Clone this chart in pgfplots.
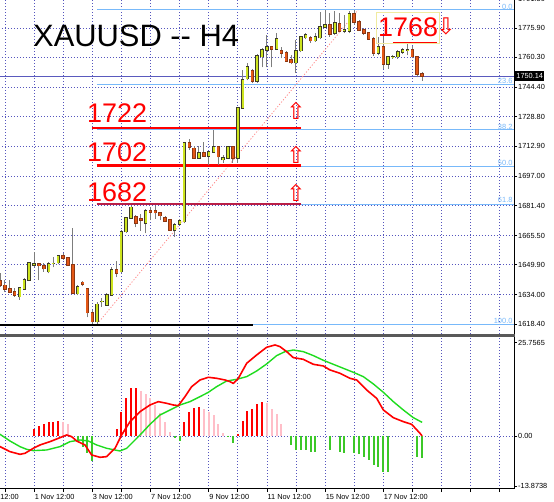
\documentclass[border=0pt]{standalone}
\usepackage{pgfplots}
\pgfplotsset{compat=1.18}
\usepackage{pgfplotstable}
\usepackage{fontspec}
\setmainfont{Liberation Sans}
\newfontfamily\symfont{DejaVu Sans}

\definecolor{gridblue}{RGB}{85,85,190}
\definecolor{bullfill}{RGB}{205,228,30}
\definecolor{bearfill}{RGB}{228,88,22}
\definecolor{bullline}{RGB}{60,60,40}
\definecolor{bearline}{RGB}{140,55,20}
\definecolor{wick}{RGB}{125,125,125}
\definecolor{fibblue}{RGB}{120,185,250}
\definecolor{curline}{RGB}{90,90,190}
\definecolor{macdgreen}{RGB}{30,220,30}
\definecolor{histgreen}{RGB}{60,200,40}
\definecolor{histpink}{RGB}{255,190,200}
\definecolor{boxyellow}{RGB}{240,235,160}
\definecolor{supmaroon}{RGB}{185,30,70}
\definecolor{fibpink}{RGB}{255,140,140}

\pgfplotstableread{
i O H L C
3 1632.8 1638.1 1631.2 1637.6
4 1637.0 1642.9 1636.5 1641.8
5 1641.8 1651.4 1641.3 1650.9
6 1649.8 1656.7 1648.7 1650.3
9 1646.1 1651.4 1645.5 1650.3
10 1650.5 1654.1 1648.7 1650.6
11 1650.9 1655.1 1650.3 1654.6
15 1634.4 1639.1 1633.8 1638.1
19 1619.5 1630.1 1618.4 1629.0
20 1630.2 1632.2 1627.5 1630.4
21 1628.5 1634.9 1628.0 1633.8
22 1633.8 1648.7 1633.3 1647.1
24 1646.1 1668.4 1645.5 1667.4
25 1667.4 1675.3 1666.8 1674.8
26 1674.8 1681.2 1674.3 1680.6
29 1672.1 1679.6 1666.8 1678.5
35 1668.4 1672.1 1664.7 1671.1
36 1671.6 1674.3 1671.1 1673.2
37 1672.7 1715.2 1672.1 1714.7
40 1706.7 1713.1 1706.2 1709.4
42 1707.8 1710.5 1703.0 1709.9
43 1709.9 1721.6 1709.4 1712.6
45 1705.7 1708.3 1704.1 1706.7
46 1706.7 1713.1 1706.2 1712.6
48 1706.7 1733.9 1704.1 1733.3
49 1733.3 1753.6 1732.8 1748.2
50 1748.8 1757.3 1748.2 1755.1
52 1747.7 1762.1 1746.6 1761.0
53 1760.5 1765.3 1755.1 1764.2
54 1764.2 1772.2 1755.1 1765.8
56 1764.7 1773.2 1764.2 1770.0
60 1757.3 1769.5 1752.0 1763.7
61 1763.7 1771.6 1763.1 1771.1
62 1770.6 1773.2 1770.0 1772.2
64 1769.0 1773.2 1768.5 1771.1
65 1770.6 1784.4 1770.0 1776.4
66 1776.4 1785.5 1775.9 1777.5
68 1773.2 1785.0 1772.2 1778.6
70 1774.3 1782.8 1773.2 1775.0
71 1774.3 1785.0 1773.2 1783.3
77 1762.6 1771.1 1761.5 1765.8
79 1756.7 1761.0 1754.1 1760.5
80 1760.5 1761.5 1759.4 1760.6
81 1760.5 1764.2 1759.4 1763.1
82 1763.1 1765.3 1762.1 1764.2
83 1764.2 1767.4 1761.5 1764.3
}\bull

\pgfplotstableread{
i O H L C
-1 1641.3 1645.5 1638.1 1639.1
0 1639.1 1641.8 1635.4 1637.0
1 1637.0 1641.8 1634.9 1635.4
2 1635.4 1637.6 1632.8 1633.8
7 1650.3 1650.9 1641.8 1649.3
8 1649.3 1650.9 1646.1 1647.7
12 1654.6 1656.2 1652.5 1653.5
13 1653.5 1654.1 1649.3 1649.8
14 1649.8 1669.5 1634.4 1634.9
16 1640.7 1641.3 1638.6 1639.7
17 1637.0 1637.6 1622.1 1624.3
18 1624.3 1625.9 1618.4 1619.5
23 1647.1 1651.9 1643.4 1645.5
27 1675.3 1676.4 1670.0 1672.1
28 1674.3 1676.9 1667.9 1673.7
30 1678.5 1680.7 1673.7 1678.0
31 1678.5 1681.2 1674.3 1677.5
32 1677.5 1678.0 1673.7 1675.9
33 1674.8 1675.9 1672.7 1673.2
34 1673.7 1674.3 1667.9 1668.4
38 1714.7 1716.8 1711.0 1712.6
39 1712.0 1713.1 1706.2 1706.7
41 1709.4 1715.2 1707.3 1707.8
44 1712.6 1712.6 1703.0 1707.3
47 1712.6 1713.1 1704.1 1706.7
51 1753.0 1754.1 1746.6 1747.7
55 1765.8 1766.3 1755.1 1764.7
57 1763.7 1765.8 1759.9 1762.6
58 1762.6 1763.7 1757.8 1758.3
59 1758.9 1761.5 1756.7 1757.3
63 1770.6 1771.6 1767.9 1769.0
67 1777.5 1783.9 1771.1 1772.7
69 1778.0 1783.9 1773.8 1774.3
72 1783.3 1785.5 1777.5 1779.1
73 1779.1 1780.2 1774.3 1774.8
74 1774.8 1775.9 1772.2 1773.2
75 1773.2 1773.8 1769.5 1770.0
76 1770.0 1771.1 1761.0 1762.6
78 1765.8 1771.1 1754.1 1756.7
84 1764.2 1766.3 1759.9 1760.5
85 1760.5 1761.0 1749.8 1751.4
86 1751.4 1752.5 1747.7 1750.14
}\bear

\pgfplotsset{
  mt4/.style={
    anchor=south west, scale only axis,
    xmin=-6.2, xmax=104.95,
    axis line style={draw=none},
    tick align=outside, major tick length=3bp,
    tick style={black, line width=0.6bp},
    ytick pos=right, yticklabel pos=right,
    tick label style={font=\fontsize{7.4}{8}\selectfont},
    yticklabel style={anchor=west, inner sep=0pt, xshift=1bp},
    major grid style={gridblue, line width=0.7bp, dash pattern=on 0.9bp off 2.1bp},
  },
  wickstyle/.style={only marks, mark=*, mark size=0pt, mark options={draw=none, fill=none}, forget plot,
    error bars/.cd, y dir=plus, y explicit, error mark=none,
    error bar style={wick, line width=1bp}},
  bodystyle/.style={only marks, mark=*, mark size=0pt, mark options={draw=none, fill=none}, forget plot,
    error bars/.cd, y dir=plus, y explicit, error mark=none,
    error bar style={#1}},
}

\begin{document}
\begin{tikzpicture}
\path[use as bounding box] (0bp,0bp) rectangle (554bp,502bp);
\fill[white] (0bp,0bp) rectangle (554bp,502bp);

% ---------------- price panel ----------------
\begin{axis}[mt4,
  at={(-25.07bp,168bp)}, width=539.07bp, height=336.3bp,
  ymin=1613.08, ymax=1792.0,
  xtick={-6,0,...,102}, xticklabels={}, major x tick style={draw=none},
  ytick={1618.4,1634.0,1649.9,1665.5,1681.4,1697.0,1712.9,1728.8,1744.4,1760.3,1775.9,1791.5},
  yticklabel style={/pgf/number format/.cd, fixed, fixed zerofill, precision=2, 1000 sep={}, assume math mode=true},
  grid=major,
]
% current price line
\addplot[curline, line width=0.9bp] coordinates {(-6.2,1750.14) (104.95,1750.14)};
% fibonacci levels
\addplot[fibblue, line width=0.9bp] coordinates {(19,1785.5) (104.95,1785.5)};
\addplot[fibblue, line width=0.9bp] coordinates {(19,1746.1) (104.95,1746.1)};
\addplot[fibblue, line width=0.9bp] coordinates {(19,1721.7) (104.95,1721.7)};
\addplot[fibblue, line width=0.9bp] coordinates {(19,1702.0) (104.95,1702.0)};
\addplot[fibblue, line width=0.9bp] coordinates {(19,1682.2) (104.95,1682.2)};
\addplot[fibblue, line width=0.9bp] coordinates {(19,1618.4) (104.95,1618.4)};
% fib base diagonal
\addplot[fibpink, line width=0.8bp, dash pattern=on 1.2bp off 1.8bp] coordinates {(19,1618.4) (72.8,1785.5)};
% support / resistance lines
\addplot[red, line width=2.2bp] coordinates {(17.9,1722.5) (61.0,1722.5)};
\addplot[red, line width=2.2bp] coordinates {(18.9,1702.7) (61.0,1702.7)};
\addplot[supmaroon, line width=2.2bp] coordinates {(18.9,1682.1) (61.0,1682.1)};
\addplot[red, line width=2.2bp] coordinates {(80.0,1768.0) (89.1,1768.0)};
\addplot[black, line width=2bp] coordinates {(-6.2,1617.9) (51.1,1617.9)};
% wicks
\addplot[wickstyle] table[x=i, y=L, y error expr=\thisrow{H}-\thisrow{L}] {\bull};
\addplot[wickstyle] table[x=i, y=L, y error expr=\thisrow{H}-\thisrow{L}] {\bear};
% bodies: outline then fill
\addplot[bodystyle={bullline, line width=3.5bp}] table[x=i, y expr=\thisrow{O}-0.3, y error expr=\thisrow{C}-\thisrow{O}+0.6] {\bull};
\addplot[bodystyle={bullfill, line width=2bp}] table[x=i, y=O, y error expr=\thisrow{C}-\thisrow{O}] {\bull};
\addplot[bodystyle={bearline, line width=3.5bp}] table[x=i, y expr=\thisrow{C}-0.3, y error expr=\thisrow{O}-\thisrow{C}+0.6] {\bear};
\addplot[bodystyle={bearfill, line width=2bp}] table[x=i, y=C, y error expr=\thisrow{O}-\thisrow{C}] {\bear};
\end{axis}

% ---------------- MACD panel ----------------
\begin{axis}[mt4,
  at={(-25.07bp,13bp)}, width=539.07bp, height=152bp,
  ymin=-14.63, ymax=27.32,
  xtick={-6,0,...,102},
  xticklabels={28 Oct 12:00,,1 Nov 12:00,,3 Nov 12:00,,7 Nov 12:00,,9 Nov 12:00,,11 Nov 12:00,,15 Nov 12:00,,17 Nov 12:00,,,,},
  xtick pos=bottom,
  xticklabel style={anchor=north west, inner sep=0pt, xshift=0.5bp, yshift=-2bp},
  ytick={-13.8738,0,25.7565}, yticklabels={-13.8738,0.00,25.7565},
  xmajorgrids, ymajorgrids=false,
]
\addplot[gridblue, line width=0.7bp, dash pattern=on 0.9bp off 2.1bp] coordinates {(-6.2,0) (104.95,0)};
% histogram
\addplot[ycomb, red, line width=2bp, mark=none] coordinates {
(6,1.84) (7,2.86) (8,3.32) (9,3.78) (10,3.96) (11,4.24)
(23,1.94) (24,6.54) (25,10.40) (26,13.34) (27,13.34)
(37,3.78) (38,6.54) (39,7.82) (40,8.10)
(48,0.65) (49,4.14) (50,6.90) (51,7.46) (52,8.74) (53,9.48)};
\addplot[ycomb, histpink, line width=2bp, mark=none] coordinates {
(12,3.96) (13,3.22)
(28,12.42) (29,11.50) (30,10.40) (31,8.56) (32,6.26) (33,3.78) (34,1.20)
(41,7.46) (42,6.72) (43,5.80) (44,3.22) (45,0.74)
(54,9.02) (55,7.46) (56,5.98) (57,3.22)};
\addplot[ycomb, histgreen, line width=2bp, mark=none] coordinates {
(15,-1.56) (16,-2.94) (17,-4.78) (18,-6.80)
(35,-0.5) (36,-1.4) (46,-0.3) (47,-1.8)
(59,-2.48) (60,-3.86) (61,-3.86) (62,-3.96) (63,-4.32) (64,-4.50)
(67,-3.86) (69,-4.32) (70,-4.78) (72,-4.78) (73,-5.06) (74,-5.90)
(75,-6.62) (76,-8.10) (77,-8.46) (78,-9.95) (79,-9.95)
(85,-5.70) (86,-6.16)};
% signal line
\addplot[macdgreen, line width=1.4bp, line join=round, mark=none] coordinates {
(-6.2,3.0) (-1.03,0.46) (1.03,-1.38) (3.09,-2.94) (4.47,-3.68) (5.84,-4.04) (8.59,-3.86)
(11.34,-2.94) (13.40,-1.56) (15.46,-1.10) (17.18,-1.38) (18.90,-2.48)
(20.96,-3.40) (23.71,-4.14) (25.09,-3.40) (27.84,0.28) (29.90,3.22)
(31.96,5.80) (34.02,7.18) (36.08,8.56) (38.15,9.48) (40.21,10.86)
(41.93,12.06) (43.64,13.62) (45.70,15.18) (47.77,15.64) (49.83,16.38)
(51.89,17.94) (53.95,19.88) (56.01,22.18) (57.73,23.28) (59.45,23.74)
(61.51,23.28) (63.58,22.18) (65.64,20.89) (67.70,19.78) (69.76,18.68)
(71.82,17.58) (73.88,16.38) (75.95,14.36) (78.01,12.06) (80.07,9.48)
(82.13,7.18) (84.19,5.06) (86,3.77)};
% MACD line
\addplot[red, line width=1.6bp, line join=round, mark=none] coordinates {
(-6.2,1.5) (-1.03,-2.94) (1.03,-4.32) (3.09,-5.06) (4.12,-4.78) (5.84,-3.40)
(7.22,-2.48) (9.28,-1.56) (11.34,-0.46) (12.71,0.28) (13.75,-0.18)
(14.78,-1.38) (16.49,-2.48) (17.87,-5.24) (19.59,-5.88) (20.96,-5.70)
(22.68,-3.40) (24.05,0.28) (25.77,3.96) (27.84,6.72) (29.90,8.56)
(31.62,9.48) (33.33,9.02) (34.71,8.56) (35.74,8.38) (37.11,10.86)
(38.49,13.62) (40.21,15.46) (41.93,16.20) (43.64,15.92) (45.36,15.46)
(46.4,15.0) (47.08,14.5) (48.11,15.92) (49.83,20.06) (51.89,22.36)
(53.95,24.48) (55.67,25.12) (56.70,24.66) (58.08,23.28) (59.45,21.62)
(61.51,21.16) (63.58,19.78) (65.64,19.32) (67.01,18.22) (69.07,17.30)
(71.13,15.92) (72.51,15.46) (74.57,12.70) (76.63,10.40) (78.01,7.18)
(80.07,5.06) (82.13,3.96) (83.85,3.22) (85.57,0.74) (86,0.0)};
\end{axis}

% ---------------- frame ----------------
\draw[black, line width=1bp] (514bp,168bp) -- (514bp,502bp);
\draw[black, line width=1bp] (514bp,13bp) -- (514bp,166bp);
\draw[black, line width=1bp] (0bp,13bp) -- (514.5bp,13bp);
\draw[gray!70!black, line width=2.6bp] (0bp,166.5bp) -- (514.5bp,166.5bp);

% ---------------- annotations ----------------
\node[anchor=base west, inner sep=0pt, font=\fontsize{31}{31}\selectfont] at (33bp,455bp) {XAUUSD -{}- H4};
\node[anchor=base west, inner sep=0pt, red, font=\fontsize{27}{27}\selectfont] at (87bp,379bp) {1722};
\node[anchor=base west, inner sep=0pt, red, font=\fontsize{27}{27}\selectfont] at (87bp,340.5bp) {1702};
\node[anchor=base west, inner sep=0pt, red, font=\fontsize{27}{27}\selectfont] at (87bp,300.5bp) {1682};
\draw[boxyellow, line width=0.8bp] (376bp,459bp) rectangle (439bp,490bp);
\node[anchor=base west, inner sep=0pt, red, font=\fontsize{27}{27}\selectfont] at (378bp,465bp) {1768};
\node[red, inner sep=0pt, font=\symfont\fontsize{23}{23}\selectfont] at (296bp,391bp) {⇧};
\node[red, inner sep=0pt, font=\symfont\fontsize{23}{23}\selectfont] at (296bp,347.5bp) {⇧};
\node[red, inner sep=0pt, font=\symfont\fontsize{23}{23}\selectfont] at (296bp,309bp) {⇧};
\node[red, inner sep=0pt, font=\symfont\fontsize{23}{23}\selectfont] at (446bp,476bp) {⇩};
% fib labels
\foreach \yy/\tt in {492/0.0, 418/23.6, 372.2/38.2, 336/50.0, 298.5/61.8, 178/100.0}{
  \node[anchor=south east, inner sep=0.3bp, fibblue, font=\fontsize{7.5}{7.5}\selectfont] at (513bp,\yy bp) {\tt};
}
% current price tag
\node[anchor=west, fill=black, text=white, inner sep=1.2bp, minimum height=10bp, font=\fontsize{7.4}{8}\selectfont] at (515bp,425.6bp) {1750.14};
\end{tikzpicture}
\end{document}
